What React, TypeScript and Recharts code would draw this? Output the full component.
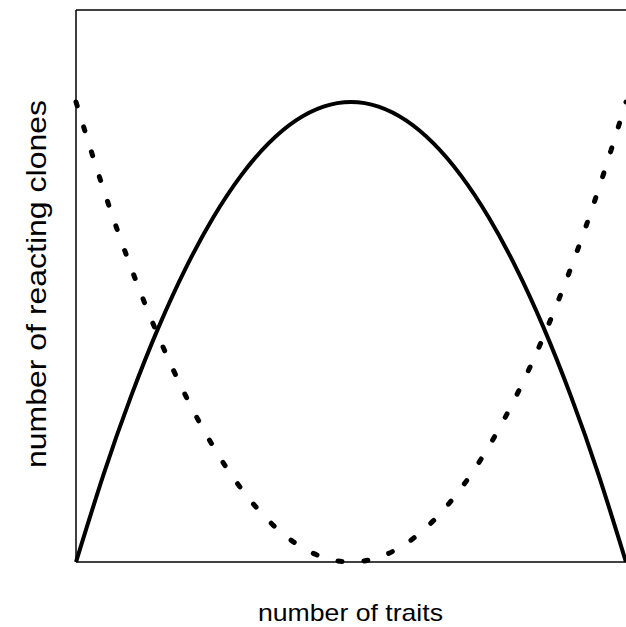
import React from "react";
import {
  LineChart,
  Line,
  XAxis,
  YAxis,
  ReferenceLine,
} from "recharts";

const traits = [0, 1, 2, 3, 4, 5, 6, 7, 8, 9, 10, 11, 12, 13, 14, 15, 16, 17, 18, 19, 20];
const reactingClones = [
  0, 0.19, 0.36, 0.51, 0.64, 0.75, 0.84, 0.91, 0.96, 0.99, 1, 0.99, 0.96, 0.91, 0.84,
  0.75, 0.64, 0.51, 0.36, 0.19, 0,
];
const otherClones = [
  1, 0.81, 0.64, 0.49, 0.36, 0.25, 0.16, 0.09, 0.04, 0.01, 0, 0.01, 0.04, 0.09, 0.16,
  0.25, 0.36, 0.49, 0.64, 0.81, 1,
];
const xTitle = "number of traits";
const yTitle = "number of reacting clones";

const data = traits.map((t, i) => ({
  t,
  solid: reactingClones[i],
  dashed: otherClones[i],
}));

const font = "'Liberation Sans', Arial, Helvetica, sans-serif";

// chart sits at page 0,0 so these are page coordinates
const XTitle = () => (
  <text
    x={350.5}
    y={621}
    textAnchor="middle"
    fontSize={24}
    fontFamily={font}
    fill="#000"
    textLength={185}
    lengthAdjust="spacingAndGlyphs"
  >
    {xTitle}
  </text>
);

const YTitle = () => (
  <text
    x={36}
    y={284}
    transform="rotate(-90, 36, 284)"
    textAnchor="middle"
    dominantBaseline="central"
    fontSize={28}
    fontFamily={font}
    fill="#000"
    textLength={368}
    lengthAdjust="spacingAndGlyphs"
  >
    {yTitle}
  </text>
);

export default function App() {
  return (
    <div style={{ width: 626, height: 627, overflow: "hidden" }}>
      <style>{"html, body { margin: 0; padding: 0; overflow: hidden; }"}</style>
      <LineChart
        width={626}
        height={627}
        data={data}
        margin={{ top: 10, right: 0, left: 0, bottom: 0 }}
      >
        <XAxis
          dataKey="t"
          type="number"
          domain={[0, 20]}
          tick={false}
          tickLine={false}
          height={65}
          axisLine={{ stroke: "#000", strokeWidth: 1.5 }}
          label={<XTitle />}
        />
        <YAxis
          type="number"
          domain={[0, 1.2]}
          tick={false}
          tickLine={false}
          width={76}
          axisLine={{ stroke: "#000", strokeWidth: 1.5 }}
          label={<YTitle />}
        />
        <ReferenceLine y={1.2} stroke="#000" strokeWidth={1.5} />
        <Line
          dataKey="solid"
          type="natural"
          stroke="#000"
          strokeWidth={4}
          dot={false}
          isAnimationActive={false}
        />
        <Line
          dataKey="dashed"
          type="natural"
          stroke="#000"
          strokeWidth={5}
          strokeLinecap="round"
          strokeDasharray="4 22"
          dot={false}
          isAnimationActive={false}
        />
      </LineChart>
    </div>
  );
}
